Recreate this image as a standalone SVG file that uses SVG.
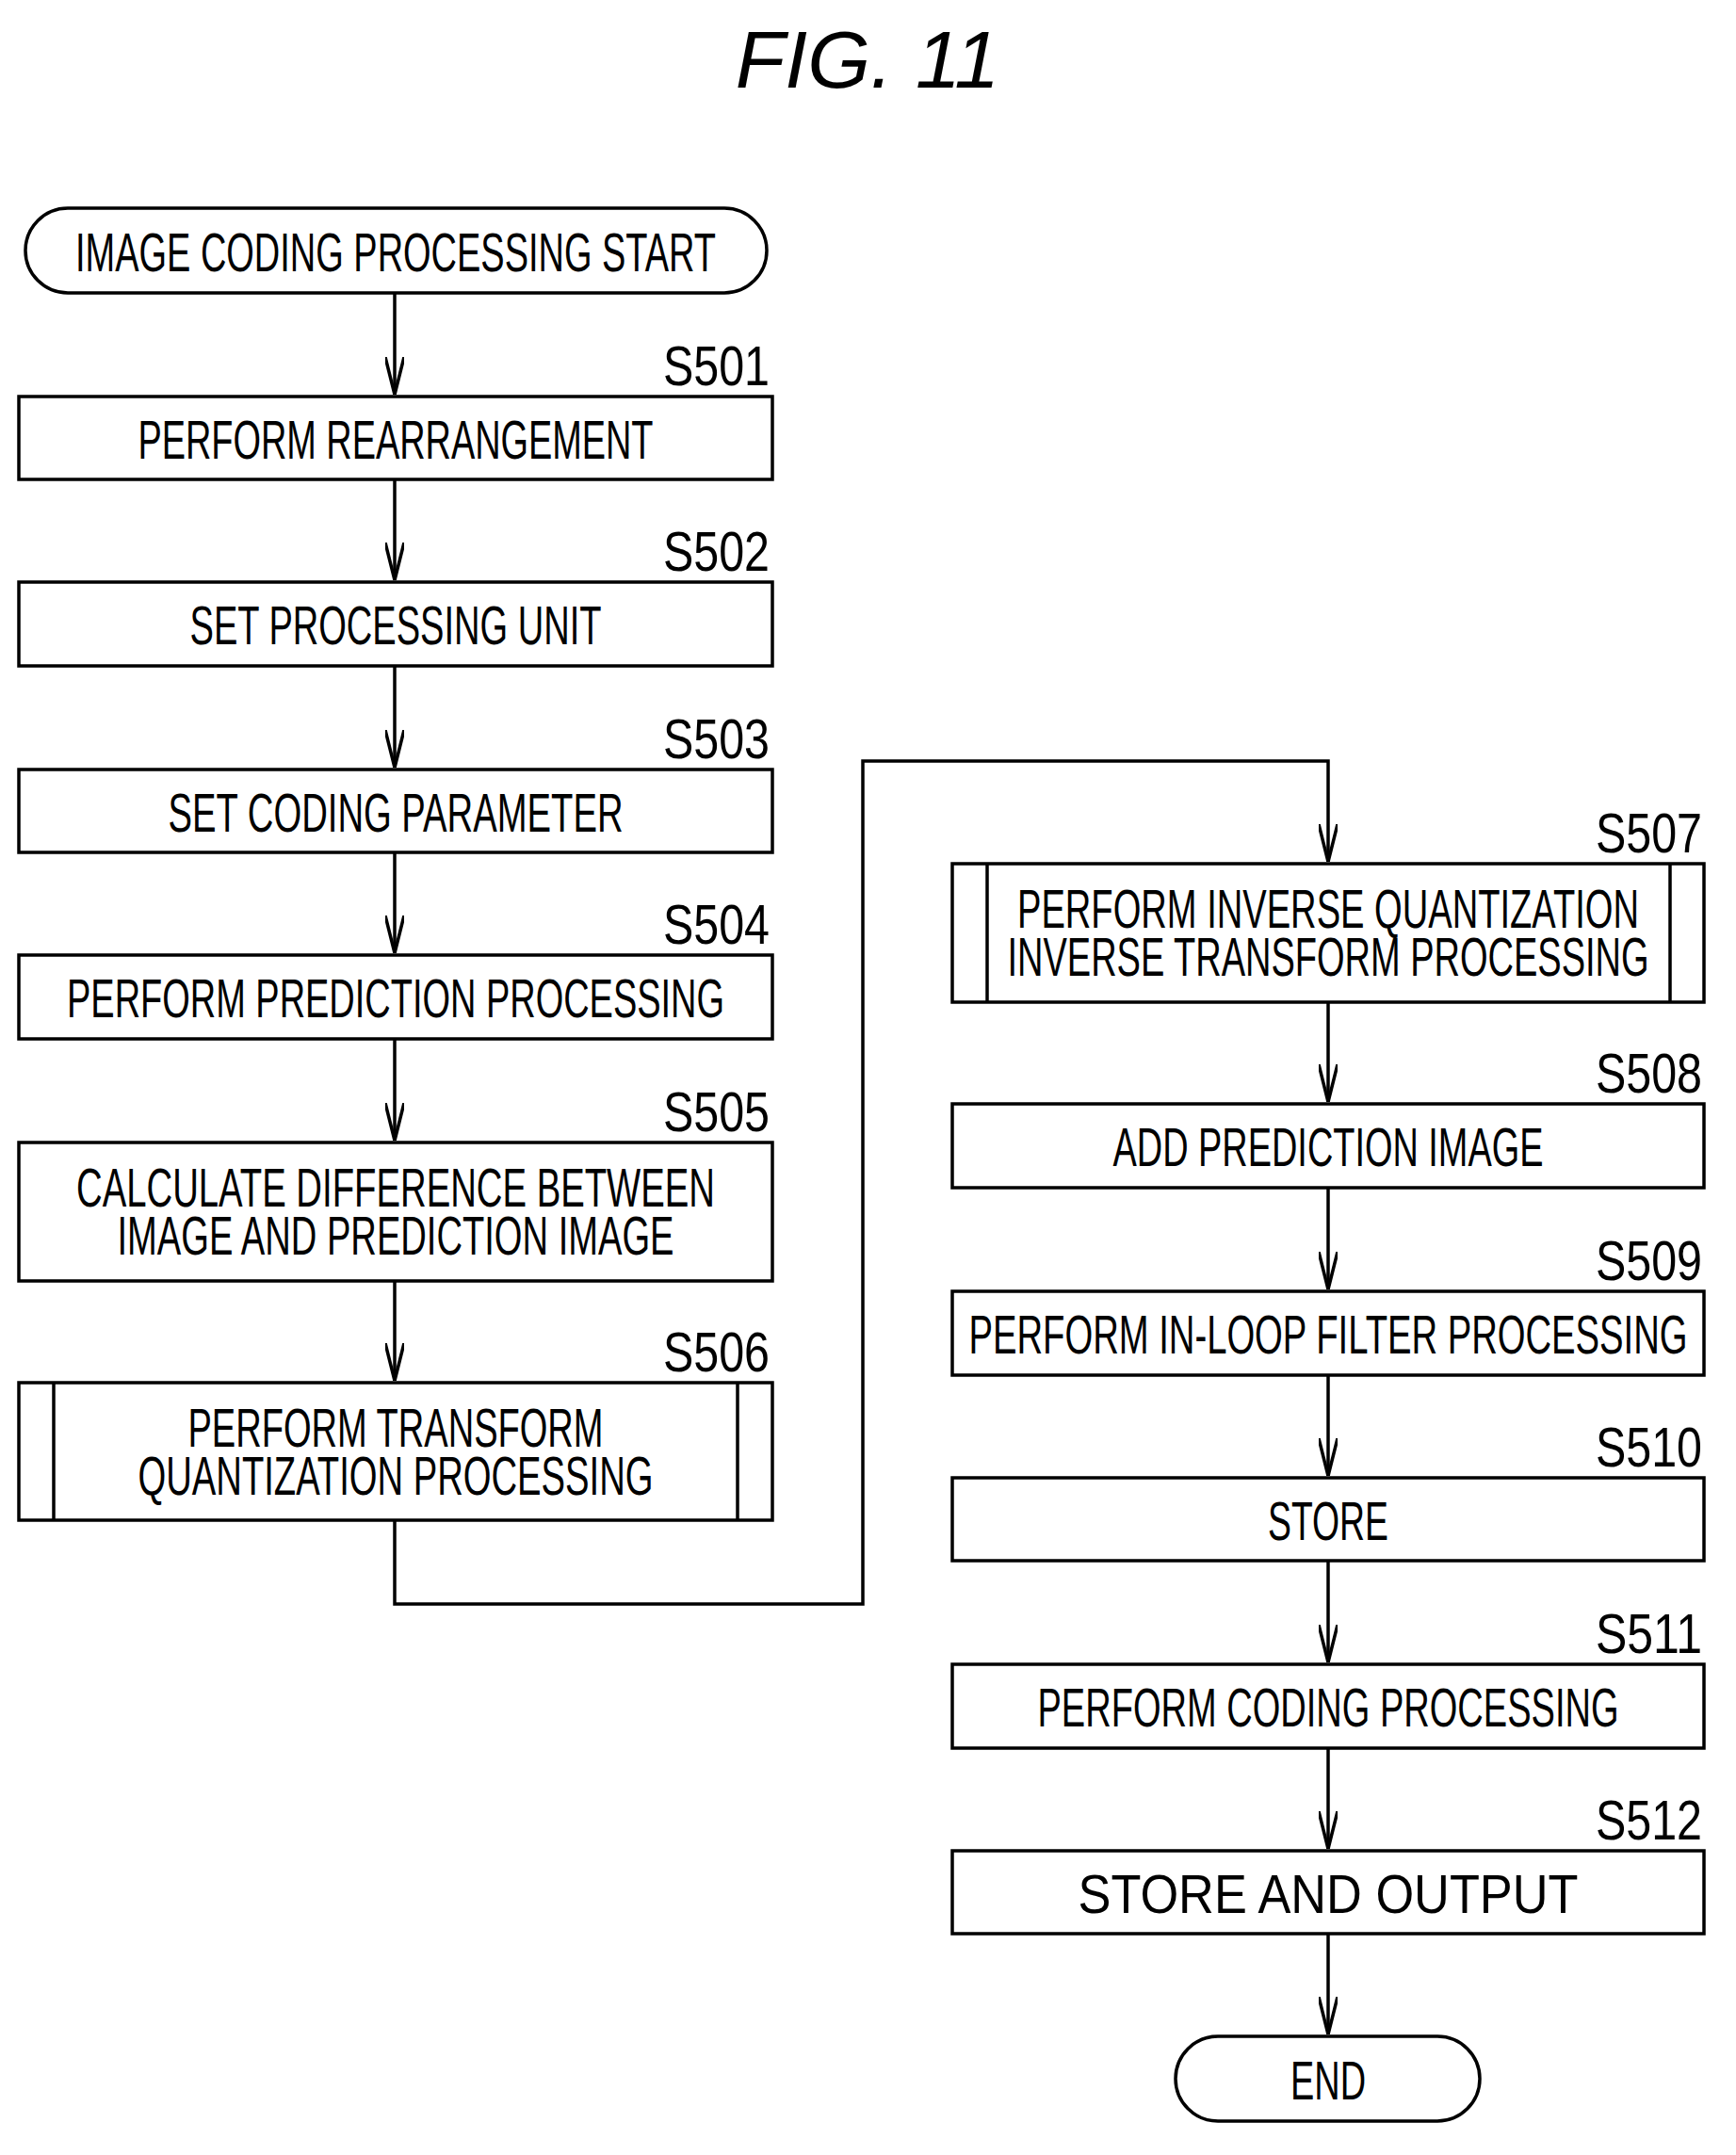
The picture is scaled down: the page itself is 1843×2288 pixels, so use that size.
<svg xmlns="http://www.w3.org/2000/svg" width="1843" height="2288" viewBox="0 0 1843 2288">
<style>
.b{fill:#fff;stroke:#000;stroke-width:3.5}
.t{font-family:"Liberation Sans",Arial,sans-serif;font-size:58px;text-anchor:middle;fill:#000}
.s{font-family:"Liberation Sans",Arial,sans-serif;font-size:60px;text-anchor:end;fill:#000}
.c{fill:none;stroke:#000;stroke-width:3.5}
</style>
<defs><marker id="a" viewBox="0 0 40 20" refX="40" refY="10" markerWidth="40" markerHeight="20" markerUnits="userSpaceOnUse" orient="auto"><path d="M0 0 L40 10 L0 20" fill="none" stroke="#000" stroke-width="3.5"/></marker></defs>
<rect width="1843" height="2288" fill="#fff"/>
<text x="921" y="93" font-family="Liberation Sans,Arial,sans-serif" font-style="italic" font-size="86" text-anchor="middle">FIG. 11</text>
<g id="connectors">
<path class="c" d="M419 311V419" marker-end="url(#a)"/>
<path class="c" d="M419 509V616" marker-end="url(#a)"/>
<path class="c" d="M419 707V815" marker-end="url(#a)"/>
<path class="c" d="M419 905V1012" marker-end="url(#a)"/>
<path class="c" d="M419 1103V1211" marker-end="url(#a)"/>
<path class="c" d="M419 1360V1466" marker-end="url(#a)"/>
<path class="c" d="M419 1614V1703H916V808H1410V915" marker-end="url(#a)"/>
<path class="c" d="M1410 1064V1170" marker-end="url(#a)"/>
<path class="c" d="M1410 1261V1369" marker-end="url(#a)"/>
<path class="c" d="M1410 1460V1567" marker-end="url(#a)"/>
<path class="c" d="M1410 1657V1765" marker-end="url(#a)"/>
<path class="c" d="M1410 1856V1963" marker-end="url(#a)"/>
<path class="c" d="M1410 2053V2160" marker-end="url(#a)"/>
</g>
<g id="start"><rect class="b" x="27" y="221" width="787" height="90" rx="45"/><text class="t" x="420" y="288" textLength="680" lengthAdjust="spacingAndGlyphs">IMAGE CODING PROCESSING START</text></g>
<g id="s501"><rect class="b" x="20" y="421" width="800" height="88"/><text class="s" x="817" y="409" textLength="113" lengthAdjust="spacingAndGlyphs">S501</text><text class="t" x="420" y="487" textLength="547" lengthAdjust="spacingAndGlyphs">PERFORM REARRANGEMENT</text></g>
<g id="s502"><rect class="b" x="20" y="618" width="800" height="89"/><text class="s" x="817" y="606" textLength="113" lengthAdjust="spacingAndGlyphs">S502</text><text class="t" x="420" y="684" textLength="437" lengthAdjust="spacingAndGlyphs">SET PROCESSING UNIT</text></g>
<g id="s503"><rect class="b" x="20" y="817" width="800" height="88"/><text class="s" x="817" y="805" textLength="113" lengthAdjust="spacingAndGlyphs">S503</text><text class="t" x="420" y="883" textLength="483" lengthAdjust="spacingAndGlyphs">SET CODING PARAMETER</text></g>
<g id="s504"><rect class="b" x="20" y="1014" width="800" height="89"/><text class="s" x="817" y="1002" textLength="113" lengthAdjust="spacingAndGlyphs">S504</text><text class="t" x="420" y="1080" textLength="698" lengthAdjust="spacingAndGlyphs">PERFORM PREDICTION PROCESSING</text></g>
<g id="s505"><rect class="b" x="20" y="1213" width="800" height="147"/><text class="s" x="817" y="1201" textLength="113" lengthAdjust="spacingAndGlyphs">S505</text><text class="t" x="420" y="1281" textLength="678" lengthAdjust="spacingAndGlyphs">CALCULATE DIFFERENCE BETWEEN</text><text class="t" x="420" y="1332" textLength="591" lengthAdjust="spacingAndGlyphs">IMAGE AND PREDICTION IMAGE</text></g>
<g id="s506"><rect class="b" x="20" y="1468" width="800" height="146"/><path class="c" d="M57 1468V1614M783 1468V1614"/><text class="s" x="817" y="1456" textLength="113" lengthAdjust="spacingAndGlyphs">S506</text><text class="t" x="420" y="1536" textLength="441" lengthAdjust="spacingAndGlyphs">PERFORM TRANSFORM</text><text class="t" x="420" y="1587" textLength="547" lengthAdjust="spacingAndGlyphs">QUANTIZATION PROCESSING</text></g>
<g id="s507"><rect class="b" x="1011" y="917" width="798" height="147"/><path class="c" d="M1048 917V1064M1773 917V1064"/><text class="s" x="1807" y="905" textLength="113" lengthAdjust="spacingAndGlyphs">S507</text><text class="t" x="1410" y="985" textLength="660" lengthAdjust="spacingAndGlyphs">PERFORM INVERSE QUANTIZATION</text><text class="t" x="1410" y="1036" textLength="681" lengthAdjust="spacingAndGlyphs">INVERSE TRANSFORM PROCESSING</text></g>
<g id="s508"><rect class="b" x="1011" y="1172" width="798" height="89"/><text class="s" x="1807" y="1160" textLength="113" lengthAdjust="spacingAndGlyphs">S508</text><text class="t" x="1410" y="1238" textLength="457" lengthAdjust="spacingAndGlyphs">ADD PREDICTION IMAGE</text></g>
<g id="s509"><rect class="b" x="1011" y="1371" width="798" height="89"/><text class="s" x="1807" y="1359" textLength="113" lengthAdjust="spacingAndGlyphs">S509</text><text class="t" x="1410" y="1437" textLength="763" lengthAdjust="spacingAndGlyphs">PERFORM IN-LOOP FILTER PROCESSING</text></g>
<g id="s510"><rect class="b" x="1011" y="1569" width="798" height="88"/><text class="s" x="1807" y="1557" textLength="113" lengthAdjust="spacingAndGlyphs">S510</text><text class="t" x="1410" y="1635" textLength="128" lengthAdjust="spacingAndGlyphs">STORE</text></g>
<g id="s511"><rect class="b" x="1011" y="1767" width="798" height="89"/><text class="s" x="1807" y="1755" textLength="113" lengthAdjust="spacingAndGlyphs">S511</text><text class="t" x="1410" y="1833" textLength="617" lengthAdjust="spacingAndGlyphs">PERFORM CODING PROCESSING</text></g>
<g id="s512"><rect class="b" x="1011" y="1965" width="798" height="88"/><text class="s" x="1807" y="1953" textLength="113" lengthAdjust="spacingAndGlyphs">S512</text><text class="t" x="1410" y="2031" textLength="531" lengthAdjust="spacingAndGlyphs">STORE AND OUTPUT</text></g>
<g id="end"><rect class="b" x="1248" y="2162" width="323" height="90" rx="45"/><text class="t" x="1410" y="2229" textLength="80" lengthAdjust="spacingAndGlyphs">END</text></g>
</svg>
